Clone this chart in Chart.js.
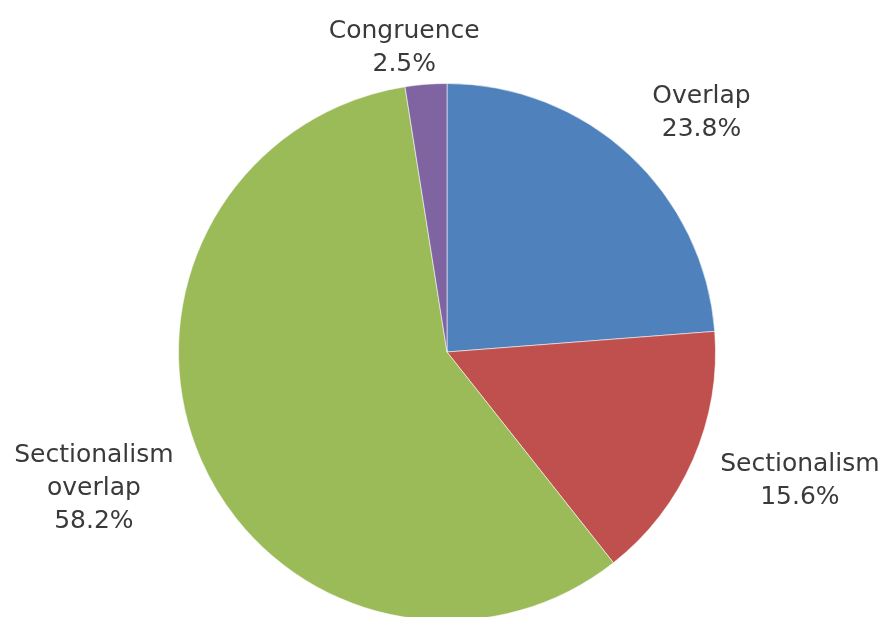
<!DOCTYPE html>
<html>
<head>
<meta charset="utf-8">
<script src="https://cdn.jsdelivr.net/npm/chart.js@4/dist/chart.umd.min.js"></script>
<style>
  html, body { margin: 0; padding: 0; background: #fff; overflow: hidden; }
  #wrap { width: 885px; height: 700px; position: relative; }
</style>
</head>
<body>
<div id="wrap"><canvas id="c" width="885" height="700"></canvas></div>
<script>
// Share of each relationship type (percent)
const categories = ['Overlap', 'Sectionalism', 'Sectionalism overlap', 'Congruence'];
const shares = [23.8, 15.6, 58.2, 2.5];
const labelLines = [['Overlap'], ['Sectionalism'], ['Sectionalism', 'overlap'], ['Congruence']];
const sliceColors = ['#4F81BD', '#C0504D', '#9BBB59', '#8064A2'];

// Label placement relative to each slice: distance as a multiple of the radius,
// and a small angular nudge (degrees) away from the slice's mid angle.
const labelRadius = [1.30, 1.40, 1.41, 1.145];
const labelNudge = [4, -3.5, 2.5, -3.5];

const outsideLabels = {
  id: 'outsideLabels',
  afterDatasetsDraw(chart) {
    const ctx = chart.ctx;
    const meta = chart.getDatasetMeta(0);
    ctx.save();
    ctx.font = '25px "DejaVu Sans", Verdana, sans-serif';
    ctx.fillStyle = '#3a3a3a';
    ctx.textAlign = 'center';
    ctx.textBaseline = 'middle';
    const lineH = 33;
    meta.data.forEach((arc, i) => {
      const p = arc.getProps(['x', 'y', 'startAngle', 'endAngle', 'outerRadius'], true);
      const mid = (p.startAngle + p.endAngle) / 2 + labelNudge[i] * Math.PI / 180;
      const d = p.outerRadius * labelRadius[i];
      const cx = p.x + Math.cos(mid) * d;
      const cy = p.y + Math.sin(mid) * d;
      const lines = labelLines[i].concat([shares[i].toFixed(1) + '%']);
      const top = cy - (lines.length - 1) * lineH / 2;
      lines.forEach((t, k) => ctx.fillText(t, cx, top + k * lineH));
    });
    ctx.restore();
  }
};

new Chart(document.getElementById('c'), {
  type: 'pie',
  data: {
    labels: categories,
    datasets: [{
      data: shares,
      backgroundColor: sliceColors,
      borderColor: 'rgba(255,255,255,0.55)',
      borderWidth: 1
    }]
  },
  options: {
    responsive: false,
    animation: false,
    layout: { padding: { top: 83, bottom: 79, left: 178, right: 169 } },
    plugins: {
      legend: { display: false },
      tooltip: { enabled: false }
    }
  },
  plugins: [outsideLabels]
});
</script>
</body>
</html>
